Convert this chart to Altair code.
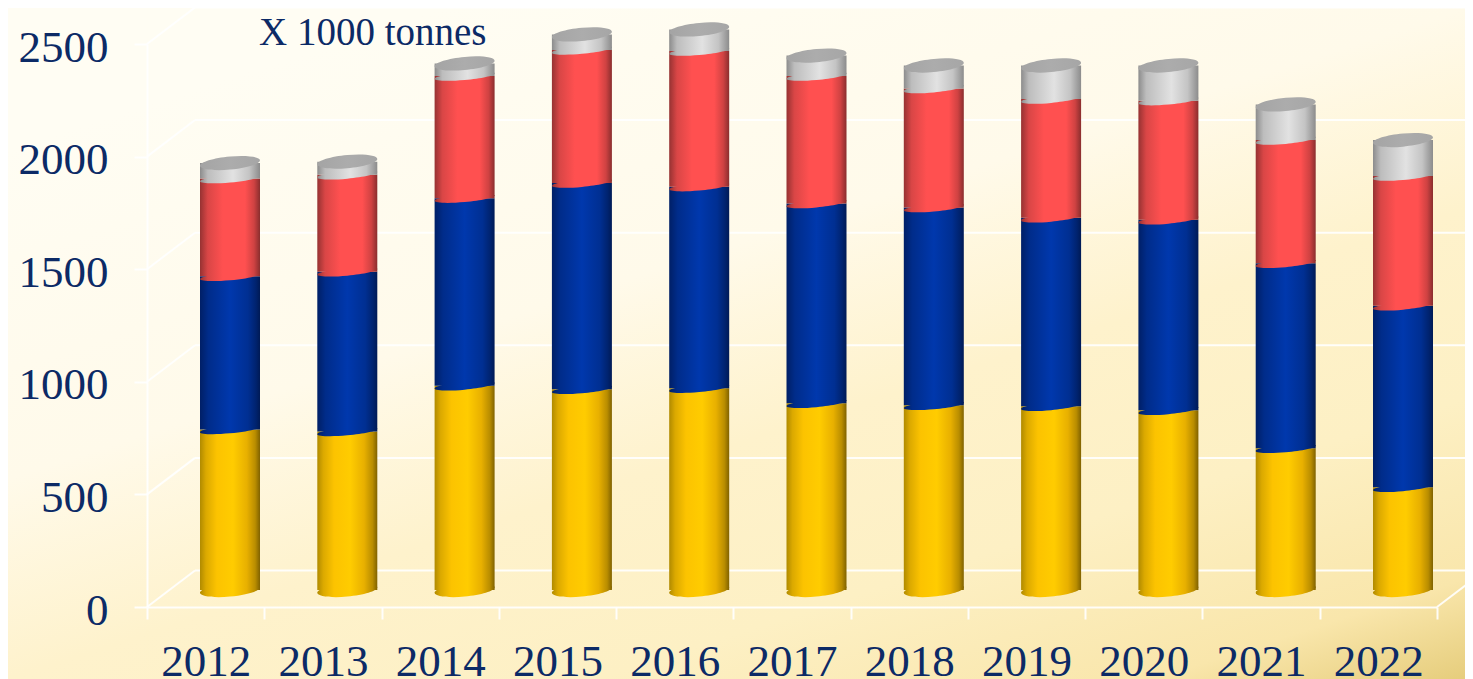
import altair as alt
import pandas as pd

years = ["2012","2013","2014","2015","2016","2017","2018","2019","2020","2021","2022"]
yellow = [713,704,907,891,896,829,820,816,798,629,456]
blue   = [680,709,833,916,895,887,878,837,846,822,806]
red    = [434,431,542,591,602,566,529,527,529,547,576]
grey   = [69,58,56,69,96,91,102,149,156,158,160]
ticks = [0,500,1000,1500,2000,2500]
unit_text = "X 1000 tonnes"

def grad(stops, x1=0, y1=0, x2=1, y2=0):
    return alt.Gradient(gradient="linear", x1=x1, y1=y1, x2=x2, y2=y2,
                        stops=[alt.GradientStop(offset=o, color=c) for o, c in stops])

G_Y = grad([(0,"#b08a00"),(.1,"#dba900"),(.28,"#fcc300"),(.55,"#ffcc00"),(.78,"#e8b000"),(.92,"#b98d00"),(1,"#806200")])
G_B = grad([(0,"#001f66"),(.14,"#002c8a"),(.5,"#0038ad"),(.8,"#002f92"),(.93,"#00236f"),(1,"#001a55")])
G_R = grad([(0,"#963232"),(.13,"#d94646"),(.38,"#ff5050"),(.75,"#ff5050"),(.9,"#cf4242"),(1,"#8a2e2e")])
G_G = grad([(0,"#8c8c8c"),(.13,"#bdbdbd"),(.55,"#e2e2e2"),(.82,"#c4c4c4"),(1,"#8c8c8c")])
G_T = grad([(0,"#a4a4a4"),(.5,"#acacac"),(1,"#a6a6a6")])
G_BG = grad([(0,"#fffdf3"),(.33,"#fffaea"),(.53,"#fef2cc"),(.72,"#fdf0c4"),(.9,"#f9e6ab"),(1,"#e6cd7c")], x1=.3, y1=0, x2=1, y2=1)

ELLIPSE = ("M 1 -0.09 C 1 0.0315 0.552 0.17 0 0.22 C -0.552 0.27 -1 0.2115 -1 0.09 "
           "C -1 -0.0315 -0.552 -0.17 0 -0.22 C 0.552 -0.27 1 -0.2115 1 -0.09 Z")
SEAM = ("M 1 -0.09 C 1 -0.018 0.552 0.08 0 0.13 C -0.552 0.18 -1 0.162 -1 0.09 "
        "C -1 0.018 -0.552 -0.08 0 -0.13 C 0.552 -0.18 1 -0.162 1 -0.09 Z")

rows = []
cum = [0]*len(years)
for name, vals in [("yellow",yellow),("blue",blue),("red",red),("grey",grey)]:
    for i, y in enumerate(years):
        rows.append(dict(year=y, series=name, y0=cum[i], y1=cum[i]+vals[i]))
        cum[i] += vals[i]
df = pd.DataFrame(rows)
ticks_df = pd.DataFrame({"v": ticks, "vb": [t + 162.2 for t in ticks]})
years_df = pd.DataFrame({"year": years, "v": [0]*len(years)})

Y_BAR = alt.Scale(domain=[0,2500], range=[546,-17])
Y_BACK = alt.Scale(domain=[0,2500], range=[526.5,-36.5])
Y_FRONT = alt.Scale(domain=[0,2500], range=[563,0])
X_BAR = alt.Scale(type="band", domain=years, range=[24.35,1314.65], paddingInner=0, paddingOuter=0, round=False)
X_FRONT = alt.Scale(type="band", domain=years, range=[0,1290], paddingInner=0, paddingOuter=0, round=False)

WALL = "#ffffff"
TXT = "#0c2a66"
FONT = "Liberation Serif"

bg = alt.Chart(years_df).mark_rect(fill=G_BG, opacity=1).encode(
    x=alt.value(-139), x2=alt.value(1318), y=alt.value(-36), y2=alt.value(635))

back = alt.Chart(ticks_df).mark_rule(color=WALL, strokeWidth=2, opacity=.9).encode(
    x=alt.value(48), x2=alt.value(1340),
    y=alt.Y("v:Q", scale=Y_BACK, axis=None))
diag = alt.Chart(ticks_df).mark_rule(color=WALL, strokeWidth=2, opacity=.9).encode(
    x=alt.value(0), x2=alt.value(48),
    y=alt.Y("v:Q", scale=Y_FRONT, axis=None), y2="vb:Q")
diag_r = alt.Chart(ticks_df[ticks_df.v == 0]).mark_rule(color=WALL, strokeWidth=2, opacity=.9).encode(
    x=alt.value(1290), x2=alt.value(1338),
    y=alt.Y("v:Q", scale=Y_FRONT, axis=None), y2="vb:Q")

layers = [bg, back, diag, diag_r]
for name, g in [("yellow",G_Y),("blue",G_B),("red",G_R),("grey",G_G)]:
    d = df[df.series == name]
    layers.append(alt.Chart(d).mark_bar(size=60, fill=g, opacity=1).encode(
        x=alt.X("year:N", scale=X_BAR, axis=None),
        y=alt.Y("y0:Q", scale=Y_BAR, axis=None), y2="y1:Q"))
    layers.append(alt.Chart(d).mark_point(shape=ELLIPSE if name == "yellow" else SEAM, size=3600, filled=True, fill=g, opacity=1, strokeWidth=0).encode(
        x=alt.X("year:N", scale=X_BAR, axis=None),
        y=alt.Y("y0:Q", scale=Y_BAR, axis=None)))
d = df[df.series == "grey"]
layers.append(alt.Chart(d).mark_point(shape=ELLIPSE, size=3600, filled=True, fill=G_T, opacity=1, strokeWidth=0).encode(
    x=alt.X("year:N", scale=X_BAR, axis=None),
    y=alt.Y("y1:Q", scale=Y_BAR, axis=None)))

axes = alt.Chart(years_df).mark_point(opacity=0).encode(
    x=alt.X("year:N", scale=X_FRONT, title=None, axis=alt.Axis(
        labelAngle=0, labelFont=FONT, labelFontSize=45, labelColor=TXT, labelPadding=20, zindex=1,
        domainColor=WALL, domainWidth=2, domainOpacity=.9, tickColor=WALL, tickWidth=2, tickOpacity=.9, tickSize=12,
        tickBand="extent", grid=False, labelOverlap=False)),
    y=alt.Y("v:Q", scale=Y_FRONT, title=None, axis=alt.Axis(
        values=ticks, format="d", labelFont=FONT, labelFontSize=45, labelColor=TXT, labelPadding=26, labelOffset=3, zindex=1,
        domainColor=WALL, domainWidth=2, domainOpacity=.9, tickColor=WALL, tickWidth=2, tickOpacity=.9, tickSize=13,
        grid=False, labelOverlap=False)))
layers.append(axes)

label = alt.Chart(years_df.head(1)).mark_text(text=unit_text, font=FONT, fontSize=39, color=TXT, align="left", baseline="middle").encode(
    x=alt.value(112), y=alt.value(-11))
layers.append(label)

chart = alt.layer(*layers).resolve_scale(x="independent", y="independent").properties(
    width=1290, height=563,
    autosize=alt.AutoSizeParams(type="none"),
    padding={"left":139,"top":36,"right":28,"bottom":72},
).configure_view(stroke=None)

chart.save("out.html", embed_options={"renderer": "svg", "actions": False})
